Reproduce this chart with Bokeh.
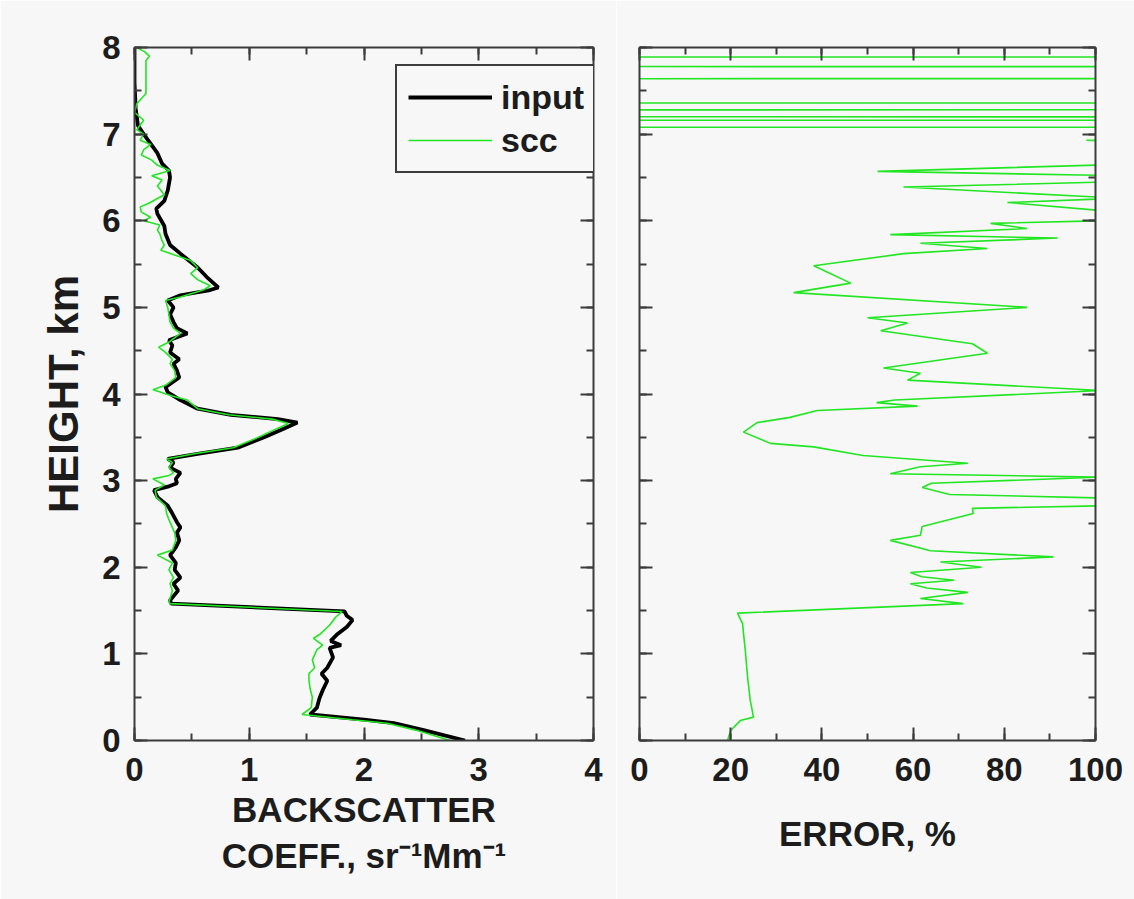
from bokeh.plotting import figure
from bokeh.models import (Range1d, LinearAxis, SingleIntervalTicker, Legend, LegendItem,
                          CustomLabelingPolicy)
from bokeh.layouts import row
from bokeh.embed import file_html
from bokeh.resources import INLINE

# ---------------- data ----------------
input_height = [0.0, 0.12, 0.2, 0.24, 0.3, 0.38, 0.48, 0.58, 0.69, 0.77, 0.84, 0.96, 1.07, 1.1, 1.15,
                1.23, 1.31, 1.39, 1.44, 1.49, 1.58, 1.62, 1.73, 1.81, 1.88, 1.97, 2.05, 2.14, 2.23, 2.31,
                2.4, 2.46, 2.52, 2.62, 2.71, 2.81, 2.89, 2.93, 2.97, 3.02, 3.09, 3.15, 3.21, 3.25, 3.31,
                3.38, 3.5, 3.6, 3.67, 3.71, 3.76, 3.83, 3.93, 4.02, 4.08, 4.19, 4.27, 4.35, 4.4, 4.48,
                4.56, 4.62, 4.7, 4.76, 4.83, 4.92, 5.0, 5.08, 5.14, 5.2, 5.23, 5.35, 5.46, 5.62, 5.72,
                5.85, 5.94, 6.08, 6.14, 6.23, 6.35, 6.5, 6.58, 6.66, 6.78, 6.89, 7.0, 7.1, 7.3, 7.6, 8.0]
input_beta = [2.88, 2.52, 2.26, 2.0, 1.53, 1.59, 1.61, 1.64, 1.68, 1.63, 1.68, 1.73, 1.70, 1.80, 1.71,
              1.77, 1.85, 1.90, 1.85, 1.83, 0.32, 0.31, 0.38, 0.34, 0.40, 0.35, 0.36, 0.31, 0.36, 0.39,
              0.37, 0.40, 0.37, 0.33, 0.29, 0.20, 0.17, 0.29, 0.37, 0.36, 0.40, 0.31, 0.34, 0.29, 0.55,
              0.90, 1.13, 1.30, 1.42, 1.25, 0.84, 0.55, 0.40, 0.29, 0.27, 0.39, 0.37, 0.34, 0.39, 0.31,
              0.33, 0.30, 0.46, 0.37, 0.34, 0.31, 0.34, 0.29, 0.40, 0.66, 0.73, 0.63, 0.55, 0.40, 0.31,
              0.27, 0.26, 0.20, 0.19, 0.26, 0.29, 0.31, 0.30, 0.24, 0.20, 0.14, 0.08, 0.03, 0.01, 0.0, 0.0]

scc_height = [0.0, 0.12, 0.2, 0.24, 0.3, 0.38, 0.5, 0.6, 0.7, 0.77, 0.84, 0.93, 1.05, 1.1, 1.18, 1.23,
              1.33, 1.42, 1.49, 1.58, 1.6, 1.73, 1.81, 1.88, 1.97, 2.05, 2.14, 2.2, 2.31, 2.4, 2.46, 2.55,
              2.62, 2.71, 2.81, 2.89, 2.95, 3.02, 3.06, 3.09, 3.15, 3.21, 3.25, 3.31, 3.38, 3.5, 3.6,
              3.66, 3.71, 3.76, 3.83, 3.93, 3.98, 4.02, 4.05, 4.1, 4.19, 4.27, 4.35, 4.4, 4.48, 4.54,
              4.6, 4.7, 4.76, 4.83, 4.92, 5.0, 5.08, 5.12, 5.2, 5.25, 5.32, 5.39, 5.46, 5.54, 5.66, 5.72,
              5.77, 5.85, 5.89, 5.95, 6.0, 6.04, 6.1, 6.16, 6.2, 6.3, 6.4, 6.47, 6.52, 6.58, 6.64, 6.7,
              6.76, 6.82, 6.88, 6.93, 7.0, 7.05, 7.16, 7.25, 7.35, 7.47, 7.6, 7.75, 7.85, 7.9, 7.95, 8.0]
scc_beta = [2.75, 2.45, 2.2, 1.9, 1.46, 1.54, 1.55, 1.53, 1.52, 1.52, 1.57, 1.55, 1.59, 1.64, 1.56, 1.62,
            1.70, 1.75, 1.81, 0.31, 0.30, 0.33, 0.31, 0.34, 0.30, 0.33, 0.20, 0.33, 0.36, 0.35, 0.33, 0.30,
            0.28, 0.27, 0.19, 0.18, 0.26, 0.16, 0.30, 0.34, 0.30, 0.33, 0.28, 0.52, 0.86, 1.08, 1.24,
            1.34, 1.20, 0.82, 0.55, 0.46, 0.32, 0.23, 0.16, 0.27, 0.36, 0.35, 0.31, 0.33, 0.27, 0.21,
            0.30, 0.40, 0.34, 0.31, 0.30, 0.29, 0.27, 0.40, 0.60, 0.66, 0.55, 0.49, 0.55, 0.49, 0.23, 0.26,
            0.24, 0.22, 0.20, 0.22, 0.08, 0.14, 0.06, 0.05, 0.12, 0.26, 0.20, 0.24, 0.15, 0.31, 0.20, 0.15,
            0.06, 0.08, 0.14, 0.05, 0.08, 0.02, 0.08, 0.0, 0.02, 0.10, 0.10, 0.10, 0.10, 0.13, 0.09, 0.02]

err_height = [0.0, 0.115, 0.23, 0.27, 0.46, 0.73, 1.04, 1.19, 1.35, 1.47, 1.58, 1.64, 1.71, 1.76, 1.81,
              1.85, 1.89, 1.94, 2.0, 2.06, 2.12, 2.19, 2.31, 2.37, 2.47, 2.62, 2.68, 2.71, 2.8, 2.84, 2.92,
              2.97, 3.04, 3.08, 3.16, 3.2, 3.29, 3.39, 3.43, 3.56, 3.67, 3.73, 3.81, 3.86, 3.9, 3.93, 4.04,
              4.16, 4.24, 4.3, 4.47, 4.58, 4.73, 4.82, 4.88, 5.0, 5.17, 5.28, 5.48, 5.62, 5.68, 5.74, 5.8,
              5.84, 5.91, 5.97, 6.0, 6.1, 6.21, 6.26, 6.39, 6.45, 6.52, 6.57, 6.65, 6.8, 6.93, 7.0, 7.07,
              7.09, 7.15, 7.17, 7.19, 7.21, 7.27, 7.29, 7.35, 7.37, 7.63, 7.65, 7.77, 7.79, 7.88, 7.9, 8.0]
err_pct = [19.3, 20, 22.1, 25, 24.3, 23.7, 23.2, 22.9, 22.6, 21.5, 71, 61.6, 72, 63, 59.4,
           69, 61.9, 59.4, 75, 66, 90.8, 63.8, 55, 61.6, 62, 73.2, 73, 101, 101, 68, 62,
           64, 101, 55, 61.6, 72, 49, 38.2, 28.7, 22.8, 25.8, 33, 39, 61, 52, 56, 101,
           58.8, 61.6, 53.5, 76.3, 73, 52.9, 58.8, 50, 85, 33.8, 46.3, 38.2, 57.9, 76.3, 61.6, 91.7,
           55, 85, 77, 101, 105, 80.7, 105, 57.9, 105, 105, 52.2, 105, 150, 98, 150, 1000,
           -1000, -1000, 1000, 1000, -1000, -1000, 1000, 1000, -1000, -1000, 1000, 1000, -1000, -1000, 1000, 1000]

series_labels = ["input", "scc"]
left_xlabel = "BACKSCATTER\nCOEFF., sr\u207b\u00b9Mm\u207b\u00b9"
right_xlabel = "ERROR, %"
ylabel = "HEIGHT, km"

# ---------------- style ----------------
FONT = "Liberation Sans"
AX = "#3c3c3c"
TXT = "#1c1c1c"
BG = "#f7f7f7"
GREEN = "#22e622"

HIDE = CustomLabelingPolicy(code="for (const i of indices) { indices.unset(i) }\nreturn indices")


def style_axis(ax, show_labels):
    ax.axis_line_color = AX
    ax.axis_line_width = 2
    ax.major_tick_line_color = AX
    ax.major_tick_line_width = 2
    ax.minor_tick_line_color = AX
    ax.minor_tick_line_width = 2
    ax.major_tick_in = 13
    ax.major_tick_out = 0
    ax.minor_tick_in = 7
    ax.minor_tick_out = 0
    ax.axis_label_text_font = FONT
    ax.axis_label_text_font_size = "35px"
    ax.axis_label_text_font_style = "bold"
    ax.axis_label_text_color = TXT
    ax.major_label_text_font = FONT
    ax.major_label_text_font_size = "33px"
    ax.major_label_text_font_style = "bold"
    ax.major_label_text_color = TXT
    if not show_labels:
        ax.major_label_policy = HIDE
        ax.major_label_standoff = 0


def make_fig(xmax, left_border, right_border, fw):
    p = figure(frame_width=fw, frame_height=693, x_range=Range1d(0, xmax), y_range=Range1d(0, 8),
               output_backend="svg", toolbar_location=None, x_axis_type=None, y_axis_type=None,
               min_border_left=left_border, min_border_right=right_border,
               min_border_top=47, min_border_bottom=159,
               background_fill_color=BG, border_fill_color=BG)
    p.outline_line_color = None
    return p


def add_axes(p, xint, xlabel, show_y):
    bx = LinearAxis(ticker=SingleIntervalTicker(interval=xint, num_minor_ticks=2), axis_label=xlabel)
    style_axis(bx, True)
    bx.major_label_standoff = 17
    p.add_layout(bx, "below")
    tx = LinearAxis(ticker=SingleIntervalTicker(interval=xint, num_minor_ticks=2))
    style_axis(tx, False)
    p.add_layout(tx, "above")
    ly = LinearAxis(ticker=SingleIntervalTicker(interval=1, num_minor_ticks=2),
                    axis_label=ylabel if show_y else None)
    style_axis(ly, show_y)
    if show_y:
        ly.major_label_standoff = 14
        ly.axis_label_standoff = 12
        ly.axis_label_text_font_size = "42px"
    p.add_layout(ly, "left")
    ry = LinearAxis(ticker=SingleIntervalTicker(interval=1, num_minor_ticks=2))
    style_axis(ry, False)
    p.add_layout(ry, "right")
    return bx


# left panel
p1 = make_fig(4, 134, 23, 459)
b1 = add_axes(p1, 1, left_xlabel, True)
b1.axis_label_standoff = 6
r_in = p1.line(input_beta, input_height, line_color="black", line_width=3.8)
r_scc = p1.line(scc_beta, scc_height, line_color=GREEN, line_width=1.6)
legend = Legend(items=[LegendItem(label=series_labels[0], renderers=[r_in]),
                       LegendItem(label=series_labels[1], renderers=[r_scc])],
                location=(261, 567), margin=0, padding=11, spacing=3,
                glyph_width=84, glyph_height=40, label_height=40, label_standoff=9,
                label_text_font=FONT, label_text_font_size="34px", label_text_font_style="bold",
                label_text_color=TXT, border_line_color=AX, border_line_width=2.5,
                border_line_alpha=1.0,
                background_fill_color=BG, background_fill_alpha=1.0)
p1.add_layout(legend)

# right panel
p2 = make_fig(100, 23, 39, 456)
b2 = add_axes(p2, 20, right_xlabel, False)
b2.axis_label_standoff = 30
p2.line(err_pct, err_height, line_color=GREEN, line_width=1.6)

layout = row(p1, p2)
open("out.html", "w").write(file_html(layout, INLINE))
